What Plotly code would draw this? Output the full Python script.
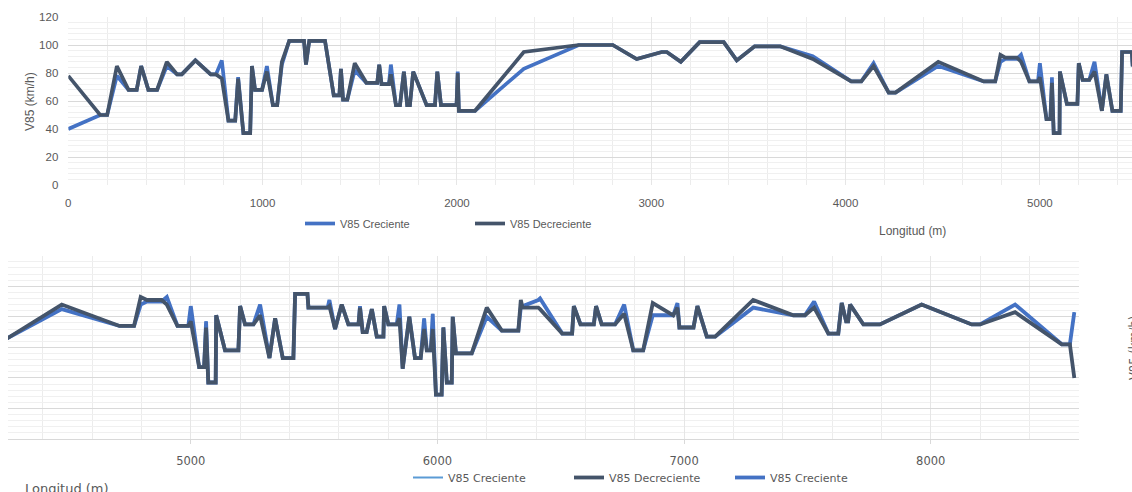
import plotly.graph_objects as go

# Longitud (m) and V85 (km/h)
dist = [0, 164, 200, 250, 310, 352, 375, 412, 457, 507, 560, 584, 654, 733, 760, 790, 824, 859, 874, 901,
        936, 945, 961, 997, 1022, 1053, 1075, 1099, 1137, 1213, 1223, 1240, 1321, 1366, 1395, 1403, 1414, 1436, 1474, 1534,
        1590, 1600, 1612, 1650, 1660, 1686, 1707, 1727, 1744, 1758, 1775, 1844, 1887, 1899, 1918, 1998, 2004, 2010, 2093, 2344,
        2627, 2802, 2925, 3054, 3080, 3152, 3249, 3373, 3440, 3532, 3664, 3831, 4029, 4081, 4144, 4222, 4257, 4477, 4711, 4770,
        4797, 4822, 4882, 4903, 4946, 4990, 5000, 5034, 5054, 5062, 5071, 5101, 5103, 5139, 5193, 5200, 5220, 5254, 5281, 5319,
        5342, 5373, 5416, 5423, 5473, 5477, 5555, 5562, 5585, 5612, 5639, 5680, 5686, 5697, 5713, 5734, 5754, 5781, 5784, 5801,
        5835, 5846, 5859, 5886, 5909, 5932, 5946, 5957, 5973, 5981, 5994, 6017, 6024, 6038, 6058, 6062, 6075, 6139, 6200, 6261,
        6328, 6338, 6345, 6409, 6416, 6506, 6546, 6553, 6580, 6634, 6643, 6666, 6720, 6757, 6794, 6834, 6873, 6956, 6973, 6981,
        7038, 7054, 7092, 7126, 7280, 7443, 7490, 7527, 7585, 7625, 7639, 7657, 7665, 7673, 7727, 7794, 7963, 8166, 8200, 8342,
        8531, 8564, 8582]

v85_creciente = [40, 50, 50, 78, 68, 68, 85, 68, 68, 85, 79, 79, 89, 79, 79, 89, 46, 46, 77, 37,
                 37, 85, 68, 68, 85, 57, 57, 86, 103, 103, 86, 103, 103, 64, 64, 83, 61, 61, 82, 73,
                 73, 86, 72, 72, 86, 57, 57, 81, 57, 57, 81, 57, 57, 81, 57, 57, 81, 53, 53, 83,
                 100, 100, 90, 95, 95, 88, 102, 102, 89, 99, 99, 92, 74, 74, 87, 66, 66, 85, 74, 74,
                 88, 90, 90, 93, 74, 74, 87, 47, 47, 77, 37, 37, 81, 58, 58, 87, 75, 75, 88, 53,
                 79, 53, 53, 95, 95, 86, 86, 91, 72, 88, 75, 75, 87, 70, 70, 85, 67, 67, 87, 75,
                 75, 88, 46, 80, 53, 53, 79, 58, 58, 82, 29, 29, 73, 37, 37, 80, 56, 56, 80, 71,
                 71, 86, 87, 91, 92, 69, 69, 87, 75, 75, 87, 75, 75, 88, 58, 58, 81, 81, 89, 73,
                 73, 87, 67, 67, 86, 81, 81, 90, 69, 69, 89, 77, 77, 88, 75, 75, 88, 75, 75, 88,
                 62, 62, 83]

v85_decreciente = [78, 50, 50, 85, 68, 68, 85, 68, 68, 88, 79, 79, 89, 79, 79, 76, 46, 46, 76, 37,
                   37, 85, 68, 68, 81, 57, 57, 88, 103, 103, 86, 103, 103, 64, 64, 83, 61, 61, 87, 73,
                   73, 86, 72, 72, 79, 57, 57, 81, 57, 57, 81, 57, 57, 81, 57, 57, 80, 53, 53, 95,
                   100, 100, 90, 95, 95, 88, 102, 102, 89, 99, 99, 90, 74, 74, 85, 66, 66, 88, 74, 74,
                   93, 91, 91, 88, 74, 74, 77, 47, 47, 73, 37, 37, 81, 58, 58, 87, 75, 75, 81, 53,
                   79, 53, 53, 95, 95, 86, 86, 87, 72, 88, 75, 75, 86, 70, 70, 85, 67, 67, 87, 75,
                   75, 79, 46, 80, 53, 53, 72, 58, 58, 72, 29, 29, 73, 37, 37, 80, 56, 56, 86, 71,
                   71, 91, 86, 86, 85, 69, 69, 87, 75, 75, 87, 75, 75, 82, 58, 58, 89, 81, 86, 73,
                   73, 87, 67, 67, 91, 81, 81, 86, 69, 69, 89, 77, 77, 88, 75, 75, 88, 75, 75, 83,
                   62, 62, 40]

top_xticks = [0, 1000, 2000, 3000, 4000, 5000]
bottom_xticks = [5000, 6000, 7000, 8000]
y_ticks = [0, 20, 40, 60, 80, 100, 120]

W, H = 1132, 492
def px(x):
    return x / W
def py(y):
    return 1 - y / H

FT = "Liberation Sans Narrow, Liberation Sans, Arial, sans-serif"
FB = "DejaVu Sans, Verdana, sans-serif"
GREY = "#595959"
BLUE = "#4472C4"
DARK = "#44546A"
LIGHT = "#5B9BD5"

fig = go.Figure()

# top chart
fig.add_trace(go.Scatter(x=dist, y=v85_creciente, mode="lines", name="V85 Creciente",
                         line=dict(color=BLUE, width=3.7), xaxis="x", yaxis="y", legend="legend"))
fig.add_trace(go.Scatter(x=dist, y=v85_decreciente, mode="lines", name="V85 Decreciente",
                         line=dict(color=DARK, width=3.7), xaxis="x", yaxis="y", legend="legend"))

# bottom chart
fig.add_trace(go.Scatter(x=dist, y=v85_creciente, mode="lines", name="V85 Creciente",
                         line=dict(color=LIGHT, width=2), xaxis="x2", yaxis="y2", legend="legend2",
                         legendrank=1))
fig.add_trace(go.Scatter(x=dist, y=v85_creciente, mode="lines", name="V85 Creciente",
                         line=dict(color=BLUE, width=3.8), xaxis="x2", yaxis="y2", legend="legend2",
                         legendrank=3))
fig.add_trace(go.Scatter(x=dist, y=v85_decreciente, mode="lines", name="V85 Decreciente",
                         line=dict(color=DARK, width=3.8), xaxis="x2", yaxis="y2", legend="legend2",
                         legendrank=2))

fig.update_layout(
    width=W, height=H, autosize=False,
    margin=dict(l=0, r=0, t=0, b=0),
    paper_bgcolor="white", plot_bgcolor="white",
    xaxis=dict(domain=[px(68.3), 1], range=[0, 5474], anchor="y",
               tickvals=top_xticks, showgrid=True, gridcolor="#e6e6e6", gridwidth=1,
               minor=dict(dtick=200, tick0=0, showgrid=True, gridcolor="#ececec"),
               zeroline=False, showline=False, ticks="",
               tickfont=dict(family=FT, size=11.5, color=GREY), ticklabelstandoff=9,
               automargin=False),
    yaxis=dict(domain=[py(185), py(17)], range=[0, 120], anchor="x",
               tickvals=y_ticks, showgrid=True, gridcolor="#d9d9d9",
               minor=dict(dtick=4, tick0=0, showgrid=True, gridcolor="#f0f0f0"),
               zeroline=False, showline=False, ticks="",
               tickfont=dict(family=FT, size=11.5, color=GREY), ticklabelstandoff=9,
               automargin=False),
    xaxis2=dict(domain=[px(8), px(1079)], range=[4259, 8601], anchor="y2",
                tickvals=bottom_xticks, showgrid=True, gridcolor="#e6e6e6",
                minor=dict(dtick=200, tick0=0, showgrid=True, gridcolor="#ececec"),
                zeroline=False, showline=True, linecolor="#d9d9d9",
                ticks="outside", ticklen=4, tickcolor="#d9d9d9",
                tickfont=dict(family=FB, size=11.5, color=GREY), ticklabelstandoff=7,
                automargin=False),
    yaxis2=dict(domain=[py(439), py(255.7)], range=[0, 120], anchor="x2",
                tickvals=y_ticks, showticklabels=False, showgrid=True, gridcolor="#d9d9d9",
                minor=dict(dtick=4, tick0=0, showgrid=True, gridcolor="#f0f0f0"),
                zeroline=False, showline=False, ticks="", automargin=False),
    legend=dict(orientation="h", x=px(300), y=py(223.5), xanchor="left", yanchor="middle",
                font=dict(family=FT, size=11, color=GREY), bgcolor="rgba(0,0,0,0)",
                entrywidth=125, itemwidth=30, tracegroupgap=0),
    legend2=dict(orientation="h", x=px(408), y=0, xanchor="left", yanchor="bottom",
                 font=dict(family=FB, size=11, color=GREY), bgcolor="rgba(0,0,0,0)",
                 entrywidth=116, itemwidth=30, traceorder="normal"),
    annotations=[
        dict(text="V85 (km/h)", x=px(30), y=py(102), xref="paper", yref="paper",
             xanchor="center", yanchor="middle",
             showarrow=False, textangle=-90, font=dict(family=FT, size=12, color=GREY)),
        dict(text="Longitud (m)", x=px(912), y=py(231), xref="paper", yref="paper",
             xanchor="center", yanchor="middle",
             showarrow=False, font=dict(family=FT, size=12, color=GREY)),
        dict(text="Longitud (m)", x=px(67), y=py(488), xref="paper", yref="paper",
             xanchor="center", yanchor="middle",
             showarrow=False, font=dict(family=FB, size=13, color=GREY)),
        dict(text="V85 (km/h)", x=px(1134), y=py(348), xref="paper", yref="paper",
             xanchor="center", yanchor="middle",
             showarrow=False, textangle=-90, font=dict(family=FB, size=11.5, color=GREY)),
    ],
)

fig.write_html("out.html", config={"displayModeBar": False},
               post_script="document.body.style.margin='0px';")
